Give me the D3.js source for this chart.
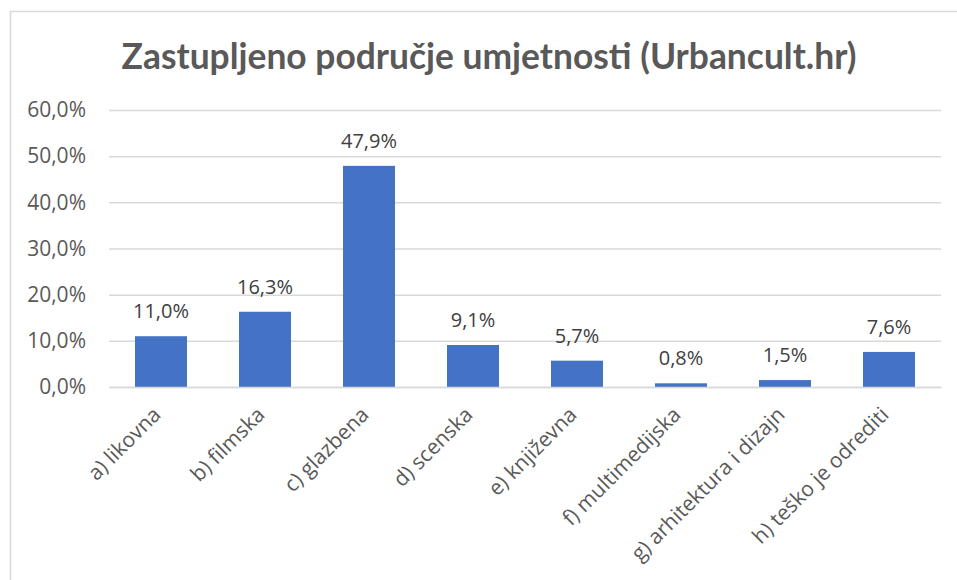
<!DOCTYPE html>
<html>
<head>
<meta charset="utf-8">
<script src="https://cdn.jsdelivr.net/npm/d3@7"></script>
<style>
  html, body { margin: 0; padding: 0; background: #fff; }
  svg { display: block; }
</style>
</head>
<body>
<svg id="chart" width="957" height="580"></svg>
<script>
// Share of each art field (percent)
const categories = [
  "a) likovna", "b) filmska", "c) glazbena", "d) scenska",
  "e) književna", "f) multimedijska", "g) arhitektura i dizajn", "h) teško je odrediti"
];
const values = [11.0, 16.3, 47.9, 9.1, 5.7, 0.8, 1.5, 7.6];
const yTicks = [0, 10, 20, 30, 40, 50, 60];
const title = "Zastupljeno područje umjetnosti (Urbancult.hr)";

const svg = d3.select("#chart");
const fmt = v => v.toFixed(1).replace(".", ",") + "%";

// chart frame (left and top edges visible)
svg.append("line").attr("x1", 10.5).attr("x2", 10.5).attr("y1", 11).attr("y2", 580)
  .attr("stroke", "#d9d9d9").attr("stroke-width", 1.5);
svg.append("line").attr("x1", 10).attr("x2", 957).attr("y1", 11.5).attr("y2", 11.5)
  .attr("stroke", "#d9d9d9").attr("stroke-width", 1.5);

const plot = { left: 109, right: 941, top: 110, bottom: 387 };

const x = d3.scaleBand().domain(categories).range([plot.left, plot.right]).paddingInner(0.5).paddingOuter(0.25);
const y = d3.scaleLinear().domain([0, 60]).range([plot.bottom, plot.top]);

// title, sized to span its measured width
const t = svg.append("text")
  .attr("x", 489).attr("y", 69)
  .attr("text-anchor", "middle")
  .attr("font-family", "Lato, 'Open Sans', sans-serif")
  .attr("font-weight", "bold")
  .attr("font-size", 34)
  .attr("fill", "#595959")
  .text(title);
const tw = t.node().getComputedTextLength();
t.attr("font-size", 34 * 735 / tw);

// gridlines + y labels
const yAxis = d3.axisLeft(y).tickValues(yTicks).tickSize(-(plot.right - plot.left)).tickFormat(fmt).tickPadding(23);
const gy = svg.append("g").attr("transform", `translate(${plot.left},0)`).call(yAxis);
gy.select(".domain").remove();
gy.selectAll(".tick line").attr("stroke", "#d9d9d9").attr("stroke-width", 1.5);
gy.selectAll(".tick text")
  .attr("font-family", "'Open Sans', sans-serif")
  .attr("font-size", 21)
  .attr("fill", "#595959");

// bars
svg.append("g").selectAll("rect").data(values).join("rect")
  .attr("x", (d, i) => x(categories[i]))
  .attr("width", x.bandwidth())
  .attr("y", d => y(d))
  .attr("height", d => y(0) - y(d))
  .attr("fill", "#4472c4");

// category axis line
const xAxis = d3.axisBottom(x).tickSize(0).tickFormat("");
const gx = svg.append("g").attr("transform", `translate(0,${plot.bottom})`).call(xAxis);
gx.select(".domain").attr("stroke", "#d9d9d9").attr("stroke-width", 1.5);

// rotated category labels
svg.append("g").selectAll("text").data(categories).join("text")
  .attr("transform", d => `translate(${x(d) + x.bandwidth() / 2 + 1},${plot.bottom + 29}) rotate(-45)`)
  .attr("text-anchor", "end")
  .attr("font-family", "'Open Sans', sans-serif")
  .attr("font-size", 21)
  .attr("fill", "#595959")
  .text(d => d);

// value labels
svg.append("g").selectAll("text").data(values).join("text")
  .attr("x", (d, i) => x(categories[i]) + x.bandwidth() / 2)
  .attr("y", d => y(d) - 18)
  .attr("text-anchor", "middle")
  .attr("font-family", "'Open Sans', sans-serif")
  .attr("font-size", 20)
  .attr("fill", "#404040")
  .text(fmt);
</script>
</body>
</html>
